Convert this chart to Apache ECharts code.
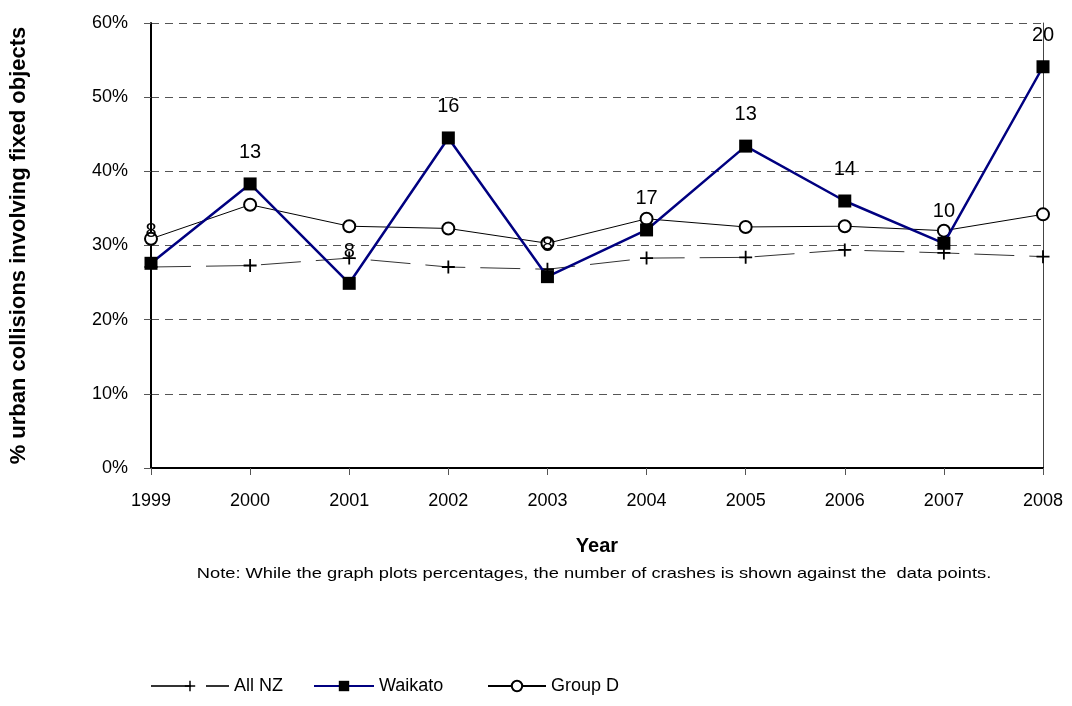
<!DOCTYPE html>
<html>
<head>
<meta charset="utf-8">
<script src="https://cdn.jsdelivr.net/npm/echarts@6/dist/echarts.min.js"></script>
<style>
  html, body { margin: 0; padding: 0; background: #fff; }
  #chart { width: 1072px; height: 706px; }
</style>
</head>
<body>
<div id="chart"></div>
<script>
var years = ['1999', '2000', '2001', '2002', '2003', '2004', '2005', '2006', '2007', '2008'];
var allNZ = [27.1, 27.3, 28.3, 27.1, 26.8, 28.3, 28.4, 29.4, 29.0, 28.5];
var waikato = [27.6, 38.3, 24.9, 44.5, 25.8, 32.1, 43.4, 36.0, 30.3, 54.1];
var groupD = [30.9, 35.5, 32.6, 32.3, 30.3, 33.6, 32.5, 32.6, 32.0, 34.2];
var crashCounts = ['8', '13', '8', '16', '8', '17', '13', '14', '10', '20'];

var chartDom = document.getElementById('chart');
var myChart = echarts.init(chartDom);
var fontFam = 'Liberation Sans, Arial, sans-serif';
var plusPath = 'path://M4.3,0 H5.7 V4.3 H10 V5.7 H5.7 V10 H4.3 V5.7 H0 V4.3 H4.3 Z';

// one legend block per series so each sits where the reference has it
function legendAt(name, left, width) {
    return {
        data: [name],
        left: left,
        top: 672,
        itemWidth: width,
        itemHeight: 13,
        textStyle: { fontSize: 18, color: '#000', fontFamily: fontFam }
    };
}

var option = {
    animation: false,
    textStyle: { fontFamily: fontFam },
    grid: { left: 145, right: 29, top: 23, bottom: 238 },
    legend: [
        legendAt('All NZ', 145, 78),
        legendAt('Waikato', 308, 60),
        legendAt('Group D', 482, 58)
    ],
    graphic: [{
        type: 'text',
        x: 594,
        y: 574,
        scaleX: 1.22,
        style: {
            text: 'Note: While the graph plots percentages, the number of crashes is shown against the  data points.',
            font: '15px ' + fontFam,
            fill: '#000',
            textAlign: 'center',
            textVerticalAlign: 'middle'
        }
    }],
    xAxis: {
        type: 'category',
        data: years,
        boundaryGap: false,
        name: 'Year',
        nameLocation: 'middle',
        nameGap: 68,
        nameTextStyle: { fontSize: 20, fontWeight: 'bold', color: '#000' },
        axisLine: { lineStyle: { color: '#000', width: 2 } },
        axisTick: { show: true, alignWithLabel: true, length: 7, lineStyle: { color: '#555' } },
        axisLabel: { fontSize: 18, color: '#000', margin: 24 }
    },
    yAxis: [{
        type: 'value',
        min: 0,
        max: 60,
        interval: 10,
        name: '% urban collisions involving fixed objects',
        nameLocation: 'middle',
        nameGap: 121,
        nameTextStyle: { fontSize: 22, fontWeight: 'bold', color: '#000' },
        axisLine: { show: true, lineStyle: { color: '#000', width: 2 } },
        axisTick: { show: true, length: 7, lineStyle: { color: '#555' } },
        axisLabel: { fontSize: 18, color: '#000', margin: 23, formatter: '{value}%' },
        splitLine: { show: true, lineStyle: { color: '#555', type: [8, 6], width: 1 } }
    }, {
        type: 'value',
        min: 0,
        max: 60,
        interval: 10,
        position: 'right',
        axisLine: { show: true, lineStyle: { color: '#444', width: 1 } },
        axisTick: { show: false },
        axisLabel: { show: false },
        splitLine: { show: false }
    }],
    series: [{
        name: 'All NZ',
        type: 'line',
        data: allNZ,
        symbol: plusPath,
        symbolSize: 13,
        itemStyle: { color: '#000' },
        lineStyle: { color: '#333', width: 1, type: [40, 15] },
        z: 2
    }, {
        name: 'Group D',
        type: 'line',
        data: groupD,
        symbol: 'emptyCircle',
        symbolSize: 12,
        itemStyle: { color: '#000', borderColor: '#000', borderWidth: 2 },
        lineStyle: { color: '#000', width: 1 },
        z: 3
    }, {
        name: 'Waikato',
        type: 'line',
        data: waikato,
        symbol: 'rect',
        symbolSize: 13,
        itemStyle: { color: '#000' },
        lineStyle: { color: '#000080', width: 2.5 },
        label: {
            show: true,
            position: 'top',
            distance: 15,
            fontSize: 20,
            color: '#000',
            formatter: function (p) { return crashCounts[p.dataIndex]; }
        },
        z: 4
    }]
};

myChart.setOption(option);
</script>
</body>
</html>
